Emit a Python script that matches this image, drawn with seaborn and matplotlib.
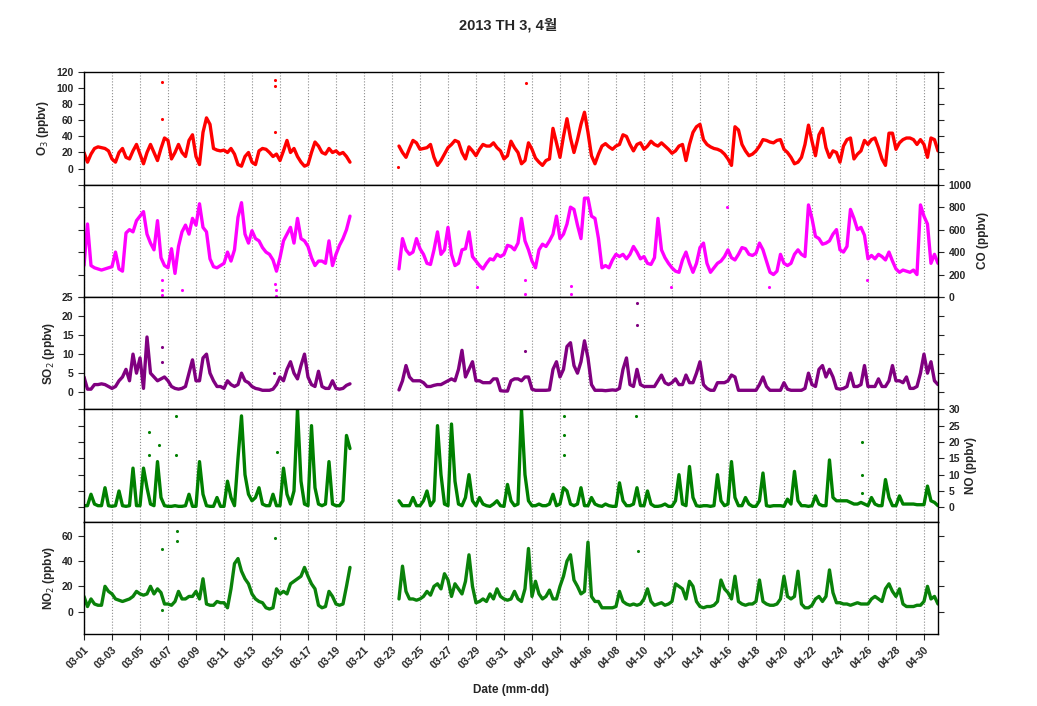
import pandas as pd
import seaborn as sns
import matplotlib.pyplot as plt

# 6-hourly values
# block 1: 03-01 00h .. 03-20 00h, block 2: 03-23 12h .. 05-01 00h
SEG1_START = "2013-03-01 00:00"
SEG2_START = "2013-03-23 12:00"
X_START, X_END = "2013-03-01", "2013-05-01"

o3_seg1 = [20, 8, 18, 25, 27, 26, 25, 22, 12, 8, 20, 25, 14, 12, 22, 30,
           18, 6, 20, 30, 20, 10, 25, 38, 35, 12, 20, 30, 20, 15, 35, 42,
           15, 5, 45, 63, 55, 25, 23, 22, 23, 20, 25, 18, 5, 3, 15, 20,
           8, 5, 22, 25, 24, 20, 15, 18, 10, 22, 35, 20, 25, 15, 8, 3,
           5, 20, 33, 28, 20, 18, 25, 20, 22, 18, 20, 15, 8]
o3_seg2 = [28, 20,
           14, 25, 35, 32, 24, 25, 26, 30, 14, 4, 10, 18, 26, 30, 35, 33,
           20, 12, 27, 22, 16, 24, 30, 28, 28, 32, 26, 22, 12, 16, 34, 26,
           20, 6, 10, 32, 24, 13, 8, 4, 10, 12, 50, 32, 14, 40, 62, 38,
           20, 36, 55, 70, 45, 16, 6, 18, 28, 31, 27, 24, 28, 30, 42, 40,
           30, 22, 30, 32, 24, 28, 34, 30, 28, 32, 28, 24, 19, 22, 28, 30,
           10, 30, 45, 52, 55, 36, 30, 27, 25, 24, 22, 18, 12, 4, 52, 48,
           30, 22, 16, 18, 22, 28, 36, 35, 33, 32, 35, 36, 24, 20, 14, 6,
           8, 14, 30, 54, 34, 16, 42, 50, 26, 14, 22, 20, 8, 28, 36, 38,
           12, 18, 22, 35, 30, 36, 38, 26, 12, 4, 44, 44, 24, 32, 36, 38,
           38, 36, 30, 36, 30, 14, 38, 36, 22]

co_seg1 = [280, 650, 280, 260, 250, 240, 250, 260, 270, 400, 250, 230,
           570, 600, 580, 680, 720, 760, 560, 480, 420, 680, 350, 280,
           260, 430, 210, 450, 580, 640, 560, 700, 640, 830, 620, 580,
           340, 270, 260, 280, 300, 400, 320, 420, 710, 840, 560, 480,
           590, 520, 500, 440, 400, 380, 330, 230, 350, 500, 560, 620,
           480, 700, 520, 500, 450, 350, 280, 320, 320, 300, 500, 280,
           380, 460, 520, 600, 720]
co_seg2 = [250, 520,
           420, 380, 400, 520, 430, 380, 300, 290, 420, 580, 380, 420,
           620, 380, 280, 300, 420, 430, 580, 360, 320, 280, 250, 300,
           340, 330, 380, 360, 380, 460, 450, 420, 480, 700, 500, 420,
           320, 260, 420, 470, 450, 500, 560, 720, 520, 560, 650, 800,
           780, 640, 520, 880, 880, 720, 700, 520, 260, 280, 260, 330,
           380, 360, 380, 340, 380, 450, 400, 340, 360, 300, 290, 350,
           700, 420, 350, 300, 260, 230, 220, 330, 400, 300, 220, 300,
           440, 480, 300, 220, 260, 300, 320, 360, 420, 350, 330, 380,
           440, 430, 380, 370, 390, 480, 420, 320, 220, 200, 230, 380,
           300, 280, 300, 380, 420, 380, 360, 820, 700, 540, 520, 470,
           480, 500, 560, 600, 420, 400, 450, 780, 700, 600, 620, 550,
           340, 370, 340, 380, 360, 330, 400, 320, 250, 220, 240, 230,
           220, 240, 200, 820, 720, 650, 300, 380, 300]

so2_seg1 = [4, 0.8, 0.8, 2, 2, 2.2, 2, 1.5, 1, 1.5, 3, 4, 6, 3, 10, 5,
            9, 1, 14.5, 5, 4, 3, 3.5, 4, 3, 1.5, 1, 0.8, 1, 1.5, 5, 8.5,
            3, 3, 9, 10, 5, 3, 1.5, 1.5, 1, 3, 2, 1.5, 2, 5, 3, 2.5,
            1.5, 1, 0.8, 0.5, 0.5, 0.5, 0.8, 2, 4, 3, 6, 8, 5, 3.5, 7, 10,
            4, 2, 1.5, 5.5, 1.5, 1, 1, 3, 1, 0.8, 1, 1.8, 2.2]
so2_seg2 = [0.6, 3,
            7, 4, 3, 3, 3, 2.5, 1.5, 1.5, 1.8, 2, 2, 2.5, 3, 3.5, 3, 6,
            11, 4, 6, 8, 3, 3, 2.5, 2.5, 2.5, 3.5, 3.5, 0.4, 0.3, 0.3, 3, 3.5,
            3.5, 3, 4, 4, 0.8, 0.5, 0.5, 0.5, 0.5, 0.6, 6, 8, 4, 6, 12, 13,
            7, 5, 8, 13.5, 9, 2, 0.5, 0.5, 0.5, 0.4, 0.5, 0.6, 0.5, 1, 6, 9,
            2, 1.5, 6, 2, 1.5, 1.5, 1.5, 1.5, 3, 4.5, 2.5, 2, 2.5, 3.5, 2, 2,
            4.5, 2.5, 2.5, 5, 8, 2, 1, 0.5, 0.5, 2.5, 2.5, 2.5, 3, 4.5, 4, 0.5,
            0.5, 0.5, 0.5, 0.5, 0.5, 2, 4, 1.5, 0.5, 0.5, 0.5, 0.5,
            2.5, 0.8, 0.5, 0.5, 0.5, 0.5, 1, 5, 2, 1.5, 6, 7, 4, 6, 4, 1,
            0.8, 1, 1.5, 5, 1.5, 1.5, 2, 7, 1.5, 1.5, 1.5, 3.5, 1.5, 1.5, 3, 7,
            3, 3, 2.5, 4, 1, 1, 1.5, 5, 10, 5, 8, 3, 2]

no_seg1 = [0.5, 0.5, 4, 1, 0.5, 0.5, 6, 0.5, 0.3, 0.5, 5, 0.5, 0.3, 0.5, 12, 0.5,
           0.5, 12, 6, 1, 0.5, 14, 3, 0.5, 0.3, 0.3, 0.5, 0.3, 0.3, 0.5, 4, 0.3,
           0.3, 14, 4, 0.5, 0.3, 0.3, 3, 0.3, 0.3, 8, 3, 0.5, 15, 28, 10, 4,
           2, 3, 6, 1, 0.5, 0.5, 4, 0.5, 0.5, 12, 4, 1, 5, 30, 8, 1,
           0.5, 25, 6, 1, 0.5, 1, 14, 1, 0.5, 0.5, 2, 22, 18]
no_seg2 = [2, 0.5,
           0.5, 0.5, 3, 0.5, 0.5, 2, 5, 0.5, 2, 25, 10, 1, 0.5, 25.5, 8, 1,
           0.5, 3, 10, 2, 0.5, 3, 1, 0.5, 0.3, 1, 2, 0.5, 0.3, 7, 2, 0.5,
           1, 30, 10, 2, 0.5, 0.5, 1, 0.5, 0.5, 1, 4, 0.5, 1, 6, 5, 1,
           0.5, 1, 6, 0.5, 0.5, 3, 1, 0.5, 0.3, 1, 0.5, 0.3, 0.3, 7.5, 2, 0.5,
           0.5, 1, 6, 0.5, 0.5, 5, 1, 0.3, 0.3, 0.5, 1, 0.3, 0.3, 2, 10, 1,
           0.5, 12.5, 3, 0.5, 0.3, 0.5, 0.5, 0.3, 0.5, 10, 2, 0.5, 1, 14, 3, 0.5,
           0.5, 3, 1, 0.3, 0.3, 2, 10.5, 0.5, 0.3, 0.5, 0.5, 0.5,
           0.3, 2.5, 1, 11, 2, 0.5, 0.5, 0.3, 0.5, 3.5, 1, 0.5, 0.5, 14.5, 3, 2,
           2, 2, 2, 1.5, 1, 1, 1.5, 1, 0.5, 3, 1, 0.5, 0.5, 8.5, 3, 0.5,
           0.5, 3.5, 1, 1, 1, 1, 0.8, 0.8, 0.8, 6.5, 2, 1.5, 0.5]

no2_seg1 = [12, 4, 10, 6, 5, 5, 20, 16, 14, 10, 9, 8, 9, 10, 12, 16,
            14, 13, 14, 20, 14, 18, 15, 6, 6, 5, 8, 16, 10, 10, 12, 12,
            16, 10, 26, 6, 5, 5, 8, 7, 7, 3, 18, 38, 42, 32, 26, 22,
            14, 10, 8, 7, 3, 2, 3, 18, 14, 16, 14, 22, 24, 26, 28, 35,
            28, 22, 18, 5, 3, 4, 16, 12, 6, 5, 6, 20, 35]
no2_seg2 = [10, 36,
            16, 10, 10, 9, 10, 12, 16, 13, 20, 22, 18, 30, 25, 12, 22, 18,
            14, 24, 45, 20, 7, 8, 10, 8, 14, 10, 18, 12, 10, 9, 10, 16,
            10, 8, 18, 50, 12, 24, 14, 10, 12, 17, 10, 10, 20, 28, 40, 45,
            25, 20, 14, 16, 55, 12, 8, 8, 3, 3, 3, 3, 4, 16, 8, 6,
            5, 6, 5, 6, 10, 18, 8, 5, 6, 7, 5, 6, 8, 22, 20, 18,
            10, 24, 20, 8, 4, 3, 4, 4, 5, 8, 25, 18, 15, 10, 28, 8,
            6, 5, 6, 6, 8, 25, 8, 6, 5, 5, 6, 10, 28, 12, 10, 12,
            32, 6, 3, 3, 5, 10, 12, 8, 12, 33, 15, 7, 7, 6, 6, 5,
            6, 7, 6, 6, 6, 10, 12, 10, 8, 18, 22, 16, 12, 18, 6, 4,
            4, 4, 5, 5, 8, 20, 10, 12, 6]

# isolated points (days after 03-01 00h, value)
o3_out_day = [5.55, 5.55, 13.64, 13.64, 13.64, 22.45, 31.6]
o3_out_val = [107, 62, 110, 103, 46, 2, 106]
co_out_day = [5.55, 5.55, 5.6, 6.98, 13.65, 13.7, 13.75, 28.05, 31.5, 31.5, 34.8, 34.8, 41.9, 45.95, 48.9, 55.9]
co_out_val = [150, 60, 20, 60, 120, 60, 10, 90, 150, 30, 100, 30, 90, 800, 90, 150]
so2_out_day = [5.55, 5.55, 13.6, 31.5, 39.5, 39.5]
so2_out_val = [12, 8, 5, 10.7, 23.5, 17.7]
no_out_day = [4.64, 4.64, 5.36, 6.6, 6.6, 13.76, 31.3, 34.3, 34.3, 34.3, 39.4, 55.55, 55.55, 55.55]
no_out_val = [23, 16, 19, 28, 16, 17, 25, 28, 22, 16, 28, 20, 10, 4.5]
no2_out_day = [5.55, 5.55, 6.62, 6.62, 13.64, 39.6]
no2_out_val = [50, 1, 64, 56, 58, 48]


def series_frame(seg1, seg2):
    t1 = pd.date_range(SEG1_START, periods=len(seg1), freq="6h")
    t2 = pd.date_range(SEG2_START, periods=len(seg2), freq="6h")
    return pd.DataFrame({"time": list(t1) + list(t2),
                         "value": seg1 + seg2,
                         "seg": [1] * len(seg1) + [2] * len(seg2)})


def outlier_frame(days, vals):
    t = pd.Timestamp(X_START) + pd.to_timedelta(days, unit="D")
    return pd.DataFrame({"time": t, "value": vals})


panels = [
    (series_frame(o3_seg1, o3_seg2), outlier_frame(o3_out_day, o3_out_val),
     "#ff0000", r"O$_3$ (ppbv)", "left", (-20, 120), range(0, 121, 20)),
    (series_frame(co_seg1, co_seg2), outlier_frame(co_out_day, co_out_val),
     "#ff00ff", "CO (ppbv)", "right", (0, 1000), range(0, 1001, 200)),
    (series_frame(so2_seg1, so2_seg2), outlier_frame(so2_out_day, so2_out_val),
     "#800080", r"SO$_2$ (ppbv)", "left", (-4.5, 25), range(0, 26, 5)),
    (series_frame(no_seg1, no_seg2), outlier_frame(no_out_day, no_out_val),
     "#008000", "NO (ppbv)", "right", (-4.5, 30), range(0, 31, 5)),
    (series_frame(no2_seg1, no2_seg2), outlier_frame(no2_out_day, no2_out_val),
     "#0a820a", r"NO$_2$ (ppbv)", "left", (-18, 71), range(0, 61, 20)),
]

sns.set_style("ticks")
plt.rcParams["font.family"] = ["Liberation Sans", "Noto Sans CJK KR", "DejaVu Sans"]

fig = plt.figure(figsize=(10.37, 7.06), dpi=100)

# panel edges in figure fraction (top of O3 .. bottom of NO2)
edges = [0.898, 0.7384, 0.5793, 0.4202, 0.2606, 0.1016]
left, width = 0.081, 0.8235
xticks = pd.date_range(X_START, "2013-04-30", freq="2D")

for i, (df, out, color, label, side, ylim, yticks) in enumerate(panels):
    ax = fig.add_axes([left, edges[i + 1], width, edges[i] - edges[i + 1]])
    sns.lineplot(data=df, x="time", y="value", units="seg", estimator=None,
                 color=color, lw=2.4, ax=ax)
    sns.scatterplot(data=out, x="time", y="value", color=color, s=5,
                    linewidth=0, ax=ax)

    ax.set_xlim(pd.Timestamp(X_START), pd.Timestamp(X_END))
    ax.set_ylim(*ylim)
    ax.set_yticks(list(yticks))
    ax.set_xticks(xticks)
    ax.grid(axis="x", ls=":", color="#8c8c8c", lw=0.8)

    last = i == len(panels) - 1
    ax.tick_params(axis="x", direction="out", length=4, width=0.8,
                   labelbottom=last, labelsize=7.5)
    ax.tick_params(axis="y", direction="out", length=4, width=0.8,
                   left=True, right=True, labelleft=side == "left",
                   labelright=side == "right", labelsize=7.5)
    for t in ax.get_yticklabels():
        t.set_fontweight("bold")

    ax.set_xlabel("")
    ax.set_ylabel(label, fontsize=8.5, fontweight="bold", labelpad=4)
    if side == "right":
        ax.yaxis.set_label_position("right")
    for sp in ax.spines.values():
        sp.set_linewidth(1.0)
        sp.set_color("black")

    if last:
        ax.set_xticklabels([d.strftime("%m-%d") for d in xticks], rotation=45,
                           ha="right", rotation_mode="anchor",
                           fontweight="bold", fontsize=7.5)

fig.text(0.493, 0.023, "Date (mm-dd)", ha="center", va="center",
         fontsize=8.5, fontweight="bold")
fig.text(0.49, 0.964, "2013 TH 3, 4월", ha="center", va="center",
         fontsize=10.5, fontweight="bold")

fig.savefig("out.png", dpi=100)
